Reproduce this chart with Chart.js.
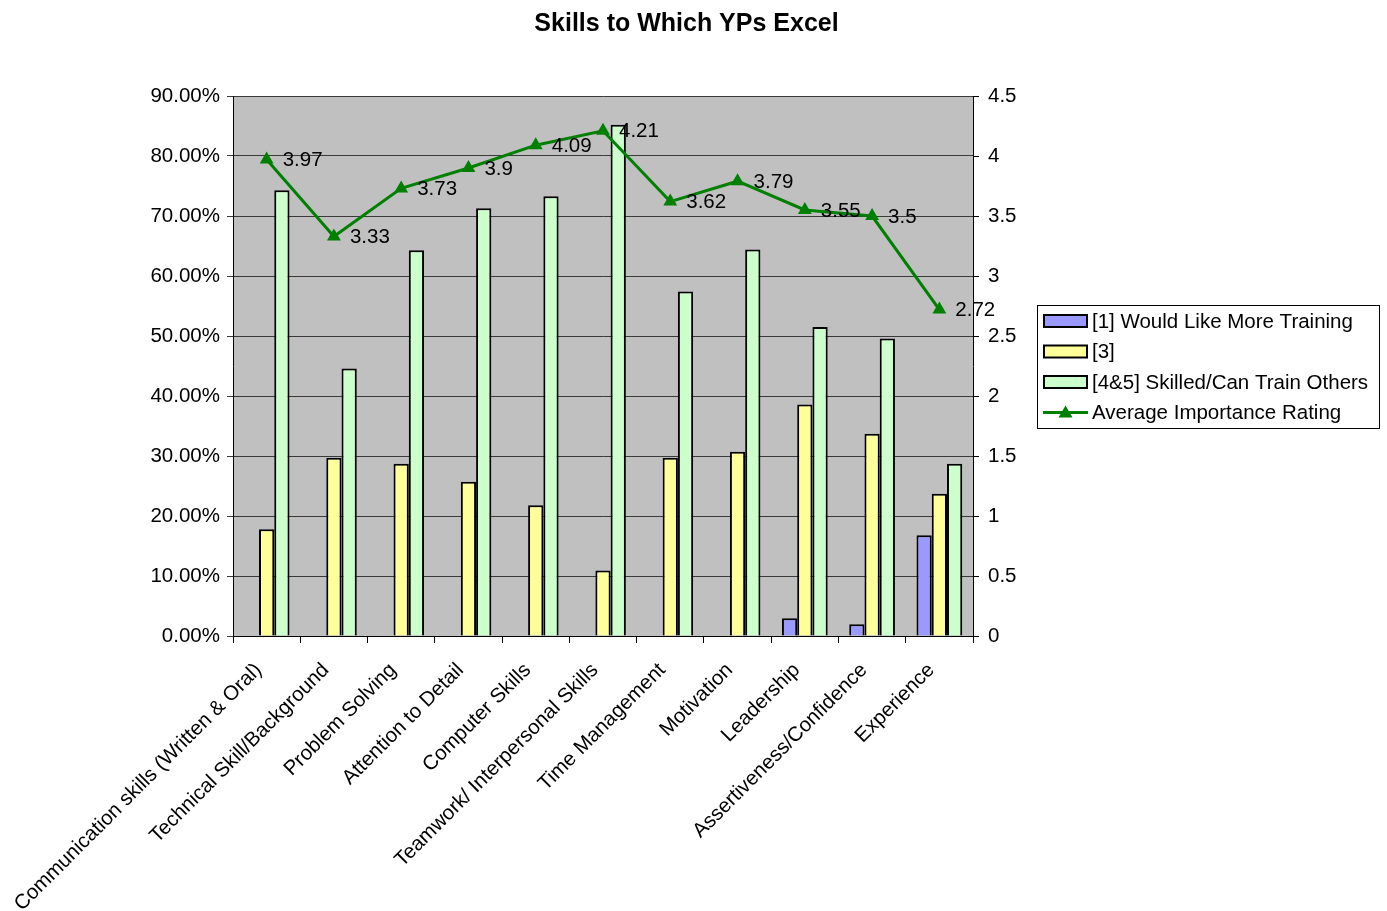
<!DOCTYPE html>
<html>
<head>
<meta charset="utf-8">
<script src="https://cdn.jsdelivr.net/npm/chart.js@4.4.1/dist/chart.umd.min.js"></script>
<style>
html,body{margin:0;padding:0;background:#fff;}
#wrap{position:relative;width:1387px;height:911px;}
</style>
</head>
<body>
<div id="wrap"><canvas id="c" width="1387" height="911"></canvas></div>
<script>
const categories = [
  "Communication skills (Written & Oral)",
  "Technical Skill/Background",
  "Problem Solving",
  "Attention to Detail",
  "Computer Skills",
  "Teamwork/ Interpersonal Skills",
  "Time Management",
  "Motivation",
  "Leadership",
  "Assertiveness/Confidence",
  "Experience"
];
const wouldLikeMoreTraining = [0, 0, 0, 0, 0, 0, 0, 0, 0.0295, 0.0195, 0.168];
const rating3 = [0.178, 0.297, 0.287, 0.257, 0.218, 0.109, 0.297, 0.307, 0.386, 0.337, 0.237];
const skilledCanTrain = [0.743, 0.446, 0.643, 0.713, 0.733, 0.852, 0.574, 0.644, 0.515, 0.496, 0.287];
const avgImportance = [3.97, 3.33, 3.73, 3.9, 4.09, 4.21, 3.62, 3.79, 3.55, 3.5, 2.72];
const seriesNames = ["[1] Would Like More Training", "[3]", "[4&5] Skilled/Can Train Others", "Average Importance Rating"];
const leftTicks = [0, 0.1, 0.2, 0.3, 0.4, 0.5, 0.6, 0.7, 0.8, 0.9];
const rightTicks = [0, 0.5, 1, 1.5, 2, 2.5, 3, 3.5, 4, 4.5];

const FONT = "'Liberation Sans', Arial, sans-serif";
const FS = 20.5;
Chart.defaults.font.family = FONT;
Chart.defaults.color = '#000';

const bgPlugin = {
  id: 'bg',
  beforeDraw(chart) {
    const {ctx, chartArea: a} = chart;
    ctx.save();
    ctx.fillStyle = '#C0C0C0';
    ctx.fillRect(a.left, a.top, a.right - a.left, a.bottom - a.top);
    ctx.restore();
  }
};

const xLabelPlugin = {
  id: 'xLabels',
  afterDraw(chart) {
    const ctx = chart.ctx;
    const xs = chart.scales.x;
    const base = chart.chartArea.bottom;
    ctx.save();
    ctx.font = FS + 'px ' + FONT;
    ctx.fillStyle = '#000';
    ctx.textAlign = 'right';
    ctx.textBaseline = 'middle';
    categories.forEach((lab, i) => {
      const x = xs.getPixelForValue(i);
      ctx.save();
      ctx.translate(x - 8, base + 31);
      ctx.rotate(-Math.PI / 4);
      ctx.fillText(lab, 0, 0);
      ctx.restore();
    });
    ctx.restore();
  }
};

const labelPlugin = {
  id: 'lineLabels',
  afterDatasetsDraw(chart) {
    const ctx = chart.ctx;
    const meta = chart.getDatasetMeta(3);
    ctx.save();
    ctx.font = FS + 'px ' + FONT;
    ctx.fillStyle = '#000';
    ctx.textAlign = 'left';
    ctx.textBaseline = 'middle';
    meta.data.forEach((pt, i) => {
      ctx.fillText(String(avgImportance[i]), pt.x + 16, pt.y + 1);
    });
    ctx.restore();
  }
};

const legendPlugin = {
  id: 'customLegend',
  afterDraw(chart) {
    const ctx = chart.ctx;
    const x0 = 1037, y0 = 305, w = 342, h = 123;
    ctx.save();
    ctx.fillStyle = '#fff';
    ctx.fillRect(x0, y0, w, h);
    ctx.strokeStyle = '#000';
    ctx.lineWidth = 1;
    ctx.strokeRect(x0 + 0.5, y0 + 0.5, w, h);
    ctx.font = FS + 'px ' + FONT;
    ctx.textAlign = 'left';
    ctx.textBaseline = 'middle';
    const rowY = [321, 351.5, 382, 412.5];
    const fills = ['#9999FF', '#FFFF99', '#CCFFCC'];
    for (let i = 0; i < 4; i++) {
      const y = rowY[i];
      if (i < 3) {
        ctx.fillStyle = fills[i];
        ctx.fillRect(1044, y - 6, 43, 12);
        ctx.lineWidth = 2;
        ctx.strokeStyle = '#000';
        ctx.strokeRect(1044, y - 6, 43, 12);
      } else {
        ctx.strokeStyle = '#008000';
        ctx.lineWidth = 3;
        ctx.beginPath();
        ctx.moveTo(1043, y);
        ctx.lineTo(1088, y);
        ctx.stroke();
        ctx.fillStyle = '#008000';
        ctx.beginPath();
        ctx.moveTo(1065.5, y - 7);
        ctx.lineTo(1072.5, y + 5);
        ctx.lineTo(1058.5, y + 5);
        ctx.closePath();
        ctx.fill();
      }
      ctx.fillStyle = '#000';
      ctx.fillText(seriesNames[i], 1092, y + 1);
    }
    ctx.restore();
  }
};

const barCommon = {
  borderColor: '#000',
  borderWidth: 2,
  barPercentage: 1.0,
  categoryPercentage: 0.68,
  yAxisID: 'y',
  order: 2
};

new Chart(document.getElementById('c'), {
  type: 'bar',
  data: {
    labels: categories,
    datasets: [
      Object.assign({label: seriesNames[0], data: wouldLikeMoreTraining, backgroundColor: '#9999FF'}, barCommon),
      Object.assign({label: seriesNames[1], data: rating3, backgroundColor: '#FFFF99'}, barCommon),
      Object.assign({label: seriesNames[2], data: skilledCanTrain, backgroundColor: '#CCFFCC'}, barCommon),
      {
        type: 'line',
        label: seriesNames[3],
        data: avgImportance,
        yAxisID: 'y1',
        borderColor: '#008000',
        backgroundColor: '#008000',
        borderWidth: 3,
        pointStyle: 'triangle',
        pointRadius: 8,
        pointHoverRadius: 8,
        pointBorderWidth: 0,
        tension: 0,
        order: 0
      }
    ]
  },
  options: {
    responsive: false,
    animation: false,
    devicePixelRatio: 1,
    layout: {padding: {left: 0, right: 14, top: 0, bottom: 0}},
    plugins: {
      legend: {display: false},
      tooltip: {enabled: false},
      title: {
        display: true,
        text: 'Skills to Which YPs Excel',
        font: {size: 25, weight: 'bold', family: FONT},
        color: '#000',
        padding: {top: 9, bottom: 57}
      }
    },
    scales: {
      x: {
        offset: true,
        grid: {offset: true, drawOnChartArea: false, drawTicks: true, tickLength: 7, color: '#000'},
        border: {color: '#000', width: 1},
        ticks: {display: false},
        afterFit(s) { s.height = 275; }
      },
      y: {
        position: 'left',
        min: 0, max: 0.9,
        afterBuildTicks(s) { s.ticks = leftTicks.map(v => ({value: v})); },
        ticks: {font: {size: FS}, color: '#000', padding: 7,
          callback: v => (v * 100).toFixed(2) + '%'},
        grid: {color: '#3a3a3a', lineWidth: 1, tickLength: 6, drawTicks: true},
        border: {color: '#000', width: 1},
        afterFit(s) { s.width = 233; }
      },
      y1: {
        position: 'right',
        min: 0, max: 4.5,
        afterBuildTicks(s) { s.ticks = rightTicks.map(v => ({value: v})); },
        ticks: {font: {size: FS}, color: '#000', padding: 9,
          callback: v => String(v)},
        grid: {drawOnChartArea: false, drawTicks: true, tickLength: 6, color: '#000'},
        border: {color: '#000', width: 1},
        afterFit(s) { s.width = 400; }
      }
    }
  },
  plugins: [bgPlugin, labelPlugin, xLabelPlugin, legendPlugin]
});
</script>
</body>
</html>
